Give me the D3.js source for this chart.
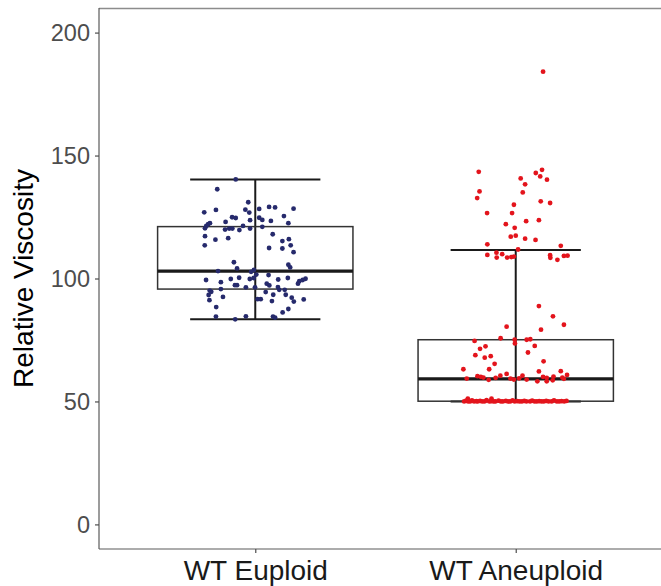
<!DOCTYPE html>
<html>
<head>
<meta charset="utf-8">
<script src="https://cdn.jsdelivr.net/npm/d3@7"></script>
<style>
  html, body { margin: 0; padding: 0; background: #fff; }
  svg { display: block; }
  text { font-family: "Liberation Sans", Arial, sans-serif; }
</style>
</head>
<body>
<svg id="chart" width="661" height="586"></svg>
<script>
// ---------- data ----------
const categories = ["WT Euploid", "WT Aneuploid"];
const yTicks = [0, 50, 100, 150, 200];
const yTitle = "Relative Viscosity";

// box stats per category: [lower whisker, Q1, median, Q3, upper whisker]
const euploidBox = [83.4, 95.7, 103.0, 121.1, 140.3];
const aneuploidBox = [50.0, 50.1, 59.2, 75.1, 111.6];

// jittered observations: values and horizontal jitter (fraction of category step)
const euploidValues = [140.3,136.3,131.0,126.9,127.9,128.0,126.8,128.3,129.1,128.9,128.4,125.4,124.9,124.6,124.7,123.8,123.7,123.4,123.0,122.5,122.1,121.4,120.4,122.5,121.4,120.3,120.3,119.9,119.7,120.3,121.0,118.0,117.2,115.8,116.4,115.2,116.0,113.5,112.4,112.2,113.5,110.7,106.6,105.6,104.5,104.1,103.0,103.5,102.7,101.6,101.4,100.2,99.4,99.8,100.3,99.8,99.6,100.2,98.9,99.9,99.4,97.9,98.5,97.9,97.2,97.3,97.3,96.4,96.4,96.5,95.4,95.4,95.7,95.1,94.6,93.3,94.5,93.4,93.4,92.5,92.2,91.5,90.6,91.6,91.6,91.2,90.8,88.4,87.6,86.2,84.5,84.6,84.5,84.1,83.4];
const euploidJitter = [-0.075,-0.146,-0.027,-0.196,-0.151,-0.038,-0.023,0.015,0.053,0.076,0.147,0.110,-0.089,-0.075,0.015,0.027,-0.020,0.060,-0.114,-0.174,-0.181,-0.188,-0.193,0.127,-0.047,-0.100,-0.088,-0.116,-0.061,-0.020,0.027,0.067,-0.193,-0.153,-0.104,0.104,0.129,-0.194,0.053,0.104,0.136,0.147,-0.082,0.127,0.134,-0.070,-0.143,-0.005,-0.016,0.004,0.051,-0.006,-0.189,-0.094,-0.062,-0.021,0.088,0.125,0.169,0.193,0.182,0.164,-0.132,0.044,0.054,-0.078,-0.070,-0.036,-0.001,0.087,0.092,0.113,-0.132,-0.175,-0.169,-0.179,0.040,0.069,0.117,-0.124,0.140,0.186,0.148,0.009,0.021,-0.176,0.064,-0.150,0.127,0.105,-0.151,-0.036,0.068,0.076,-0.077];

const aneuploidValues = [184.1,143.4,144.2,142.9,141.5,140.2,140.7,138.3,135.4,132.7,135.0,130.0,131.4,130.7,126.6,126.6,122.1,123.3,123.7,120.6,117.0,117.4,116.2,115.7,113.9,113.3,111.8,109.6,110.5,108.5,109.9,108.5,108.7,108.9,109.5,108.4,107.6,109.2,109.3,88.8,84.6,81.2,80.4,79.2,75.7,74.6,75.1,73.6,75.1,75.3,72.4,71.4,72.6,69.9,68.8,67.8,68.4,66.3,65.3,63.1,63.1,62.2,62.3,61.2,60.5,60.5,60.3,60.0,59.7,59.3,59.6,59.3,59.4,60.0,59.6,60.1,59.7,60.8,58.8,58.9,58.9,58.2,58.2,58.6,59.2,
  51.1,51.1,50.0,50.3,50.0,50.0,50.4,50.0,50.1,50.0,50.2,50.0,50.0,50.5,50.0,50.1,50.0,50.0,50.3,50.0,50.0,50.2,50.0,50.0,50.4,50.0,50.1,50.0,50.0,50.2,50.0,50.0,50.3,50.0,50.0,50.1,50.0,50.0,50.2,50.0,50.0,50.4,50.0,50.0,50.1,50.0,50.2];
const aneuploidJitter = [0.105,-0.142,0.101,0.077,0.094,0.120,0.019,0.036,-0.139,-0.148,0.027,-0.007,0.096,0.132,-0.110,-0.014,-0.038,0.040,0.089,-0.004,-0.019,0.000,0.036,0.076,-0.109,0.173,0.009,-0.109,-0.074,-0.073,-0.052,-0.033,-0.017,-0.007,0.132,0.133,0.160,0.185,0.199,0.089,0.143,0.185,-0.035,0.097,-0.058,-0.158,-0.004,-0.003,0.042,0.056,-0.116,-0.137,0.073,0.047,-0.155,-0.119,-0.096,0.107,-0.081,-0.201,-0.102,0.089,0.173,-0.035,-0.059,0.026,-0.147,-0.134,-0.124,-0.188,-0.077,-0.020,0.013,0.105,0.119,0.145,0.179,0.197,-0.104,-0.007,0.042,0.083,0.119,0.142,0.185,
  -0.184,-0.093,-0.198,-0.190,-0.183,-0.175,-0.168,-0.160,-0.151,-0.146,-0.137,-0.129,-0.120,-0.112,-0.101,-0.094,-0.085,-0.078,-0.066,-0.057,-0.049,-0.038,-0.030,-0.021,-0.012,-0.004,0.006,0.015,0.024,0.033,0.041,0.055,0.063,0.072,0.081,0.090,0.099,0.108,0.117,0.126,0.138,0.147,0.158,0.167,0.176,0.186,0.195];

const pointColors = ["#262a6c", "#e3141c"];

// ---------- layout ----------
const svg = d3.select("#chart");
const panel = { left: 99, right: 672, top: 8, bottom: 549 };

const x = d3.scalePoint().domain(categories).range([panel.left, panel.right]).padding(0.6);
const step = x.step();
const y = d3.scaleLinear().domain([-10, 210]).range([panel.bottom, panel.top]);

// top panel border
svg.append("line")
  .attr("x1", panel.left).attr("x2", 661)
  .attr("y1", panel.top + 0.5).attr("y2", panel.top + 0.5)
  .attr("stroke", "#8c8c8c").attr("stroke-width", 1.6);

// axes
const yAxis = svg.append("g")
  .attr("transform", `translate(${panel.left},0)`)
  .call(d3.axisLeft(y).tickValues(yTicks).tickSize(4).tickPadding(5));
yAxis.select(".domain").attr("stroke", "#5a5a5a").attr("stroke-width", 1.2)
  .attr("d", `M0,${panel.top}V${panel.bottom}`);
yAxis.selectAll(".tick line").attr("stroke", "#4d4d4d").attr("stroke-width", 1.2);
yAxis.selectAll(".tick text").attr("fill", "#4d4d4d")
  .style("font-size", "23.5px").attr("dy", "0.35em");

const xAxis = svg.append("g")
  .attr("transform", `translate(0,${panel.bottom})`)
  .call(d3.axisBottom(x).tickSize(4).tickPadding(7));
xAxis.select(".domain").attr("stroke", "#5a5a5a").attr("stroke-width", 1.2)
  .attr("d", `M${panel.left},0H${panel.right}`);
xAxis.selectAll(".tick line").attr("stroke", "#4d4d4d").attr("stroke-width", 1.2);
xAxis.selectAll(".tick text").attr("fill", "#1a1a1a")
  .style("font-size", "28px").attr("dy", "0.71em");

// y title
svg.append("text")
  .attr("transform", `translate(33,${(panel.top + panel.bottom) / 2}) rotate(-90)`)
  .attr("text-anchor", "middle")
  .style("font-size", "28px")
  .attr("fill", "#000")
  .text(yTitle);

// ---------- boxplots ----------
const boxes = [euploidBox, aneuploidBox];
const g = svg.append("g");
categories.forEach((cat, i) => {
  const [lo, q1, med, q3, hi] = boxes[i];
  const cx = x(cat);
  const bw = step * 0.75, ew = step * 0.5;
  // whisker (errorbar) vertical line + caps
  g.append("line").attr("x1", cx).attr("x2", cx).attr("y1", y(lo)).attr("y2", y(hi))
    .attr("stroke", "#1a1a1a").attr("stroke-width", 2);
  [lo, hi].forEach(v => {
    g.append("line").attr("x1", cx - ew / 2).attr("x2", cx + ew / 2)
      .attr("y1", y(v)).attr("y2", y(v))
      .attr("stroke", "#1a1a1a").attr("stroke-width", 2);
  });
  // box
  g.append("rect").attr("x", cx - bw / 2).attr("width", bw)
    .attr("y", y(q3)).attr("height", y(q1) - y(q3))
    .attr("fill", "none").attr("stroke", "#333").attr("stroke-width", 1.5);
  // median
  g.append("line").attr("x1", cx - bw / 2).attr("x2", cx + bw / 2)
    .attr("y1", y(med)).attr("y2", y(med))
    .attr("stroke", "#1a1a1a").attr("stroke-width", 3.2);
});

// ---------- jittered points ----------
const groups = [
  { cat: categories[0], values: euploidValues, jitter: euploidJitter },
  { cat: categories[1], values: aneuploidValues, jitter: aneuploidJitter }
];
groups.forEach((grp, i) => {
  const pts = grp.values.map((v, k) => ({ v, j: grp.jitter[k] }));
  svg.append("g").selectAll("circle").data(pts).join("circle")
    .attr("cx", d => x(grp.cat) + d.j * step)
    .attr("cy", d => y(d.v))
    .attr("r", 2.4)
    .attr("fill", pointColors[i]);
});
</script>
</body>
</html>
